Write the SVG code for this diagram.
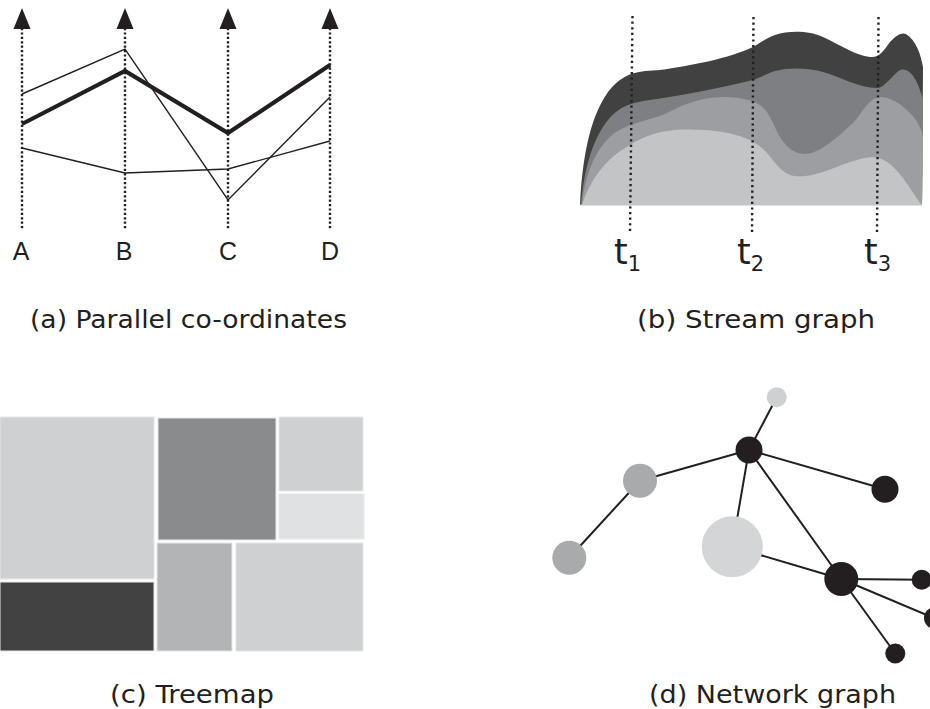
<svg xmlns="http://www.w3.org/2000/svg" width="930" height="709" viewBox="0 0 930 709">
<style>
.axis{stroke:#231f20;stroke-width:2.4;stroke-dasharray:2.2 2.2;fill:none}
.tl{stroke:#231f20;stroke-width:2.4;stroke-dasharray:2.2 3.4;fill:none}
.ah{fill:#231f20}
.pl{fill:none;stroke:#231f20;stroke-width:1.4;stroke-linejoin:miter}
.plb{fill:none;stroke:#231f20;stroke-width:4.2;stroke-linejoin:miter}
.lab{font-family:"Liberation Sans",Arial,sans-serif;font-size:25px;fill:#231f20;text-anchor:middle}
.tt{font-family:"DejaVu Sans",Verdana,sans-serif;font-size:35px;fill:#231f20}
.sub{font-size:21px}
.cap{font-family:"DejaVu Sans",Verdana,sans-serif;font-size:25px;fill:#231f20}
.tm{stroke:#e6e6e6;stroke-width:1}
.edge{stroke:#231f20;stroke-width:2;fill:none}
.blk{fill:#231f20}
</style>
<g id="parallel-coordinates">
  <g id="pc-axes">
    <line class="axis" x1="22" y1="28" x2="22" y2="230"/>
    <line class="axis" x1="125" y1="28" x2="125" y2="230"/>
    <line class="axis" x1="228" y1="28" x2="228" y2="230"/>
    <line class="axis" x1="330" y1="28" x2="330" y2="230"/>
    <polygon class="ah" points="13.5,29 22,8 30.5,29"/>
    <polygon class="ah" points="116.5,29 125,8 133.5,29"/>
    <polygon class="ah" points="219.5,29 228,8 236.5,29"/>
    <polygon class="ah" points="321.5,29 330,8 338.5,29"/>
  </g>
  <g id="pc-lines">
    <polyline class="pl" points="22,94 125,49 228,200 330,97"/>
    <polyline class="plb" points="22,124 125,71 228,133 330,65"/>
    <polyline class="pl" points="22,148 125,173 228,169 330,141"/>
  </g>
  <text class="lab" x="21" y="260">A</text>
  <text class="lab" x="124" y="260">B</text>
  <text class="lab" x="228" y="260">C</text>
  <text class="lab" x="330" y="260">D</text>
  <text class="cap" x="30" y="328" textLength="317" lengthAdjust="spacingAndGlyphs">(a) Parallel co-ordinates</text>
</g>
<g id="stream-graph">
  <path fill="#414142" d="M580,205 C582,165 588,120 608,92 C618,79 628,73 645,71 L660,70 C690,66 730,58 753,47 C762,42 768,37 775,35 C790,30 810,31 823,37 C840,45 855,55 870,57 C880,58 884,50 890,42 C896,35 902,32 906,34 C916,40 921,55 923,67 L922,205 Z"/>
  <path fill="#7e7f82" d="M581,205 C584,170 592,140 608,120 C618,108 628,103 650,100 C680,96 720,88 753,80 C762,77 768,73 775,71 C790,67 810,68 823,72 C840,77 860,88 877,88 C885,88 893,74 900,70 C910,67 918,80 923,100 L922,205 Z"/>
  <path fill="#9d9ea1" d="M582,205 C585,175 595,150 612,135 C625,124 650,120 665,114 C680,106 700,97 723,97 C740,97 752,100 760,105 C770,112 773,125 780,137 C788,150 797,154 805,154 C820,154 840,135 853,123 C862,113 870,97 880,97 C890,97 900,103 910,113 C918,121 922,130 923,137 L922,205 Z"/>
  <path fill="#c3c4c6" d="M582,205 C590,180 605,160 625,148 C640,138 655,132 668,131 C680,129 700,129 723,132 C740,135 753,140 762,148 C772,157 778,170 790,175 C800,178 810,176 823,172 C840,166 860,157 873,157 C885,158 893,165 903,178 C910,188 916,197 920,203 L922,205 Z"/>
  <line x1="580" y1="205" x2="922" y2="205" stroke="#c3c4c6" stroke-width="1"/>
  <line class="tl" x1="632.5" y1="16" x2="630" y2="233"/>
  <line class="tl" x1="753.5" y1="17" x2="752" y2="233"/>
  <line class="tl" x1="878.5" y1="17" x2="877" y2="233"/>
  <text class="tt" x="614" y="264">t<tspan class="sub" dy="7">1</tspan></text>
  <text class="tt" x="737" y="264">t<tspan class="sub" dy="7">2</tspan></text>
  <text class="tt" x="864" y="264">t<tspan class="sub" dy="7">3</tspan></text>
  <text class="cap" x="637" y="328" textLength="238" lengthAdjust="spacingAndGlyphs">(b) Stream graph</text>
</g>
<g id="treemap">
  <rect class="tm" x="0" y="417" width="154" height="162" fill="#cfd0d2"/>
  <rect class="tm" x="0" y="582" width="154" height="69" fill="#424242"/>
  <rect class="tm" x="158" y="418" width="118" height="122" fill="#8a8b8d"/>
  <rect class="tm" x="279" y="417" width="84" height="74" fill="#cfd0d2"/>
  <rect class="tm" x="279" y="494" width="85" height="45" fill="#e0e1e3"/>
  <rect class="tm" x="157" y="543" width="75" height="108" fill="#b3b4b6"/>
  <rect class="tm" x="236" y="543" width="127" height="108" fill="#cfd0d2"/>
  <text class="cap" x="110" y="703" textLength="164" lengthAdjust="spacingAndGlyphs">(c) Treemap</text>
</g>
<g id="network-graph">
  <g id="edges">
    <line class="edge" x1="749" y1="450" x2="776.7" y2="397.3"/>
    <line class="edge" x1="749" y1="450" x2="640" y2="480.7"/>
    <line class="edge" x1="640" y1="480.7" x2="569.3" y2="557.7"/>
    <line class="edge" x1="749" y1="450" x2="732.3" y2="546.7"/>
    <line class="edge" x1="749" y1="450" x2="885" y2="489.3"/>
    <line class="edge" x1="749" y1="450" x2="841.3" y2="579"/>
    <line class="edge" x1="732.3" y1="546.7" x2="841.3" y2="579"/>
    <line class="edge" x1="841.3" y1="579" x2="921.7" y2="579.8"/>
    <line class="edge" x1="841.3" y1="579" x2="934" y2="618"/>
    <line class="edge" x1="841.3" y1="579" x2="895.3" y2="653.5"/>
  </g>
  <g id="n-top"><circle cx="776.7" cy="397.3" r="10" fill="#cfd0d2"/></g>
  <g id="n-hub1"><circle class="blk" cx="749" cy="450" r="13.5"/></g>
  <g id="n-gray1"><circle cx="640" cy="480.7" r="17" fill="#a9aaac"/></g>
  <g id="n-gray2"><circle cx="569.3" cy="557.7" r="17" fill="#a9aaac"/></g>
  <g id="n-big"><circle cx="732.3" cy="546.7" r="30.5" fill="#d4d5d7"/></g>
  <g id="n-right"><circle class="blk" cx="885" cy="489.3" r="13.5"/></g>
  <g id="n-hub2"><circle class="blk" cx="841.3" cy="579" r="17"/></g>
  <g id="n-s1"><circle class="blk" cx="921.7" cy="579.8" r="10"/></g>
  <g id="n-s2"><circle class="blk" cx="935" cy="618" r="11"/></g>
  <g id="n-s3"><circle class="blk" cx="895.3" cy="653.5" r="10"/></g>
  <text class="cap" x="649" y="703" textLength="247" lengthAdjust="spacingAndGlyphs">(d) Network graph</text>
</g>
</svg>
